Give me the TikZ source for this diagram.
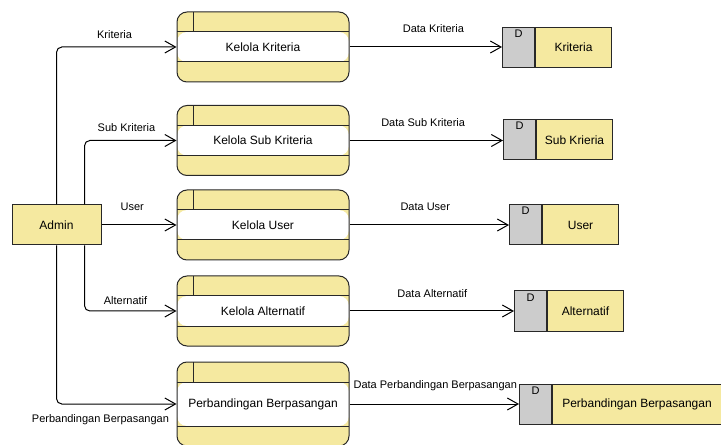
\documentclass[tikz,border=0pt]{standalone}
\usepackage{fontspec}
\setmainfont{Liberation Sans}
\usetikzlibrary{arrows.meta}
\definecolor{kuning}{RGB}{245,233,160}
\definecolor{abu}{RGB}{204,204,204}
\definecolor{garis}{RGB}{40,40,40}

\tikzset{
  panah/.style={-{Straight Barb[length=8pt,width=9pt]}, line width=0.75pt},
  lbl/.style={font=\fontsize{8.25}{10}\selectfont, inner sep=0pt, text height=6pt, text depth=1.5pt},
  entitas/.style={draw=garis, fill=kuning, line width=0.75pt, minimum width=66.75pt, minimum height=30pt, inner sep=0pt},
  proses/.style={draw=garis, fill=kuning, line width=0.75pt, rounded corners=7.5pt,
    minimum width=129pt, minimum height=52.5pt, inner sep=0pt,
    path picture={
      \fill[white] ([yshift=-15pt]path picture bounding box.north west) rectangle ([yshift=15pt]path picture bounding box.south east);
      \draw[line width=0.75pt] ([yshift=-15pt]path picture bounding box.north west) -- ([yshift=-15pt]path picture bounding box.north east);
      \draw[line width=0.75pt] ([yshift=15pt]path picture bounding box.south west) -- ([yshift=15pt]path picture bounding box.south east);
      \draw[line width=0.75pt] ([xshift=12pt]path picture bounding box.north west) -- ([xshift=12pt,yshift=-15pt]path picture bounding box.north west);
    }},
  dsd/.style={draw=garis, fill=abu, line width=0.75pt, anchor=west, minimum width=24pt, minimum height=30pt,
    inner ysep=0pt, text height=7.5pt, text depth=22.5pt, font=\fontsize{8.25}{10}\selectfont},
  dsn/.style={draw=garis, fill=kuning, line width=0.75pt, anchor=west, minimum width=57pt, minimum height=30pt, inner sep=0pt}
}

\begin{document}
\begin{tikzpicture}[x=0.75pt, y=-0.75pt, every node/.append style={font=\fontsize{9}{11}\selectfont}]
        \useasboundingbox (0,0) rectangle (721,445);

        \node[entitas] (admin) at (56.5,225) {Admin};

        \node[proses] (kk) at (263,47) {Kelola Kriteria};
        \node[proses] (ksk) at (263,140.5) {Kelola Sub Kriteria};
        \node[proses] (ku) at (263,225) {Kelola User};
        \node[proses] (ka) at (263,311) {Kelola Alternatif};
        \node[proses, minimum height=63pt] (kpb) at (263,404) {Perbandingan Berpasangan};

        \node[dsd] (dkr) at (502,47.5) {D};
        \node[dsn] (kr) at (dkr.east) {Kriteria};
        \node[dsd] (dsk) at (503,140) {D};
        \node[dsn] (sk) at (dsk.east) {Sub Krieria};
        \node[dsd] (dus) at (509,225) {D};
        \node[dsn] (us) at (dus.east) {User};
        \node[dsd] (dal) at (514,311) {D};
        \node[dsn] (al) at (dal.east) {Alternatif};
        \node[dsd] (dpb) at (519,404) {D};
        \node[dsn, minimum width=126.75pt] (pb) at (dpb.east) {Perbandingan Berpasangan};

        \draw[panah, rounded corners=4pt] (admin.north) |- (kk.west)
            node[lbl, pos=0.742, yshift=8.5pt] (lkr) {Kriteria};
        \draw[panah, rounded corners=4pt] ([xshift=21pt]admin.north) |- (ksk.west)
            node[lbl, pos=0.728, yshift=9.25pt] (lsk) {Sub Kriteria};
        \draw[panah] (admin.east) -- (ku.west)
            node[lbl, pos=0.41, yshift=13pt] (lus) {User};
        \draw[panah, rounded corners=4pt] ([xshift=21pt]admin.south) |- (ka.west)
            node[lbl, pos=0.723, yshift=7pt] (lal) {Alternatif};
        \draw[panah, rounded corners=4pt] (admin.south) |- (kpb.west)
            node[lbl, pos=0.683, yshift=-11.5pt] (lpb) {Perbandingan Berpasangan};

        \draw[panah] (kk.east) -- (kk.east -| dkr.west)
            node[lbl, pos=0.55, yshift=13pt] (ldkr) {Data Kriteria};
        \draw[panah] (ksk.east) -- (ksk.east -| dsk.west)
            node[lbl, pos=0.48, yshift=13pt] (ldsk) {Data Sub Kriteria};
        \draw[panah] (ku.east) -- (ku.east -| dus.west)
            node[lbl, pos=0.475, yshift=13pt] (ldus) {Data User};
        \draw[panah] (ka.east) -- (ka.east -| dal.west)
            node[lbl, pos=0.503, yshift=12.25pt] (ldal) {Data Alternatif};
        \draw[panah] (kpb.east) -- (kpb.east -| dpb.west)
            node[lbl, pos=0.506, yshift=14pt] (ldpb) {Data Perbandingan Berpasangan};
\end{tikzpicture}
\end{document}
